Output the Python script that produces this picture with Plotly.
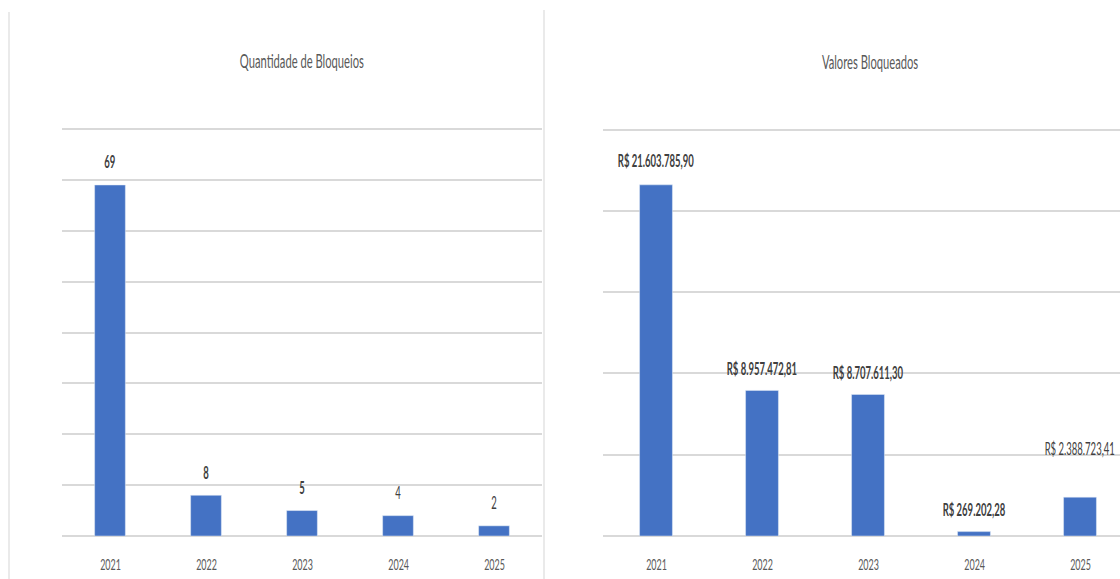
import plotly.graph_objects as go

years = ["2021", "2022", "2023", "2024", "2025"]
qtd_values = [69, 8, 5, 4, 2]
qtd_bold = [True, True, True, False, False]
val_values = [21603785.90, 8957472.81, 8707611.30, 269202.28, 2388723.41]
val_labels = ["R$ 21.603.785,90", "R$ 8.957.472,81", "R$ 8.707.611,30", "R$ 269.202,28", "R$ 2.388.723,41"]
val_bold = [True, True, True, True, False]

title_left = "Quantidade de Bloqueios"
title_right = "Valores Bloqueados"

W, H = 1120, 579
BAR = "#4472C4"
GRID = "#d9d9d9"
FONT = "Lato, Open Sans, sans-serif"
LBL = "#404040"
TCK = "#595959"
SQUISH = 0.56

fig = go.Figure()
fig.add_trace(go.Bar(x=years, y=qtd_values, marker_color=BAR, xaxis="x", yaxis="y",
                     width=0.32, hoverinfo="skip", showlegend=False))
fig.add_trace(go.Bar(x=years, y=val_values, marker_color=BAR, xaxis="x2", yaxis="y2",
                     width=0.31, hoverinfo="skip", showlegend=False))

def fmt(t, b):
    return f"<b>{t}</b>" if b else t

annotations = []
for i, (v, b) in enumerate(zip(qtd_values, qtd_bold)):
    annotations.append(dict(x=i, y=v, xref="x", yref="y", text=fmt(str(v), b),
                            showarrow=False, xanchor="center", yanchor="middle", yshift=23,
                            font=dict(family=FONT, size=17, color=LBL)))
right_shift = [24, 22, 22, 22, 49]
for i, (v, t, b, s) in enumerate(zip(val_values, val_labels, val_bold, right_shift)):
    annotations.append(dict(x=i, y=v, xref="x2", yref="y2", text=fmt(t, b),
                            showarrow=False, xanchor="center", yanchor="middle", yshift=s,
                            font=dict(family=FONT, size=17, color=LBL)))
# category labels under each panel
for xr in ("x", "x2"):
    for i, yr in enumerate(years):
        annotations.append(dict(x=i, y=1 - 563 / H, xref=xr, yref="paper", text=yr,
                                showarrow=False, xanchor="center", yanchor="middle",
                                font=dict(family=FONT, size=16, color=TCK)))
annotations.append(dict(x=302 / W, y=1 - 60 / H, xref="paper", yref="paper", text=title_left,
                        xanchor="center", yanchor="middle",
                        showarrow=False, font=dict(family=FONT, size=20, color=TCK)))
annotations.append(dict(x=870 / W, y=1 - 61 / H, xref="paper", yref="paper", text=title_right,
                        xanchor="center", yanchor="middle",
                        showarrow=False, font=dict(family=FONT, size=20, color=TCK)))

shapes = [
    dict(type="line", xref="paper", yref="paper", x0=9 / W, x1=9 / W, y0=0, y1=1 - 12 / H,
         line=dict(color="#e3e3e3", width=1.5)),
    dict(type="line", xref="paper", yref="paper", x0=544 / W, x1=544 / W, y0=0, y1=1 - 10 / H,
         line=dict(color="#e3e3e3", width=1.5)),
]

xaxis_common = dict(showgrid=False, showline=False, ticks="", zeroline=False,
                    showticklabels=False, type="category")
yaxis_common = dict(showgrid=True, gridcolor=GRID, gridwidth=1.5, showticklabels=False,
                    zeroline=True, zerolinecolor=GRID, zerolinewidth=1.5, showline=False, ticks="")

fig.update_layout(
    width=W, height=H, margin=dict(l=0, r=0, t=0, b=0),
    paper_bgcolor="white", plot_bgcolor="white",
    xaxis=dict(domain=[62 / W, 542 / W], anchor="y", range=[-0.5, 4.5], **xaxis_common),
    yaxis=dict(domain=[1 - 536 / H, 1 - 127 / H], anchor="x", range=[0, 80.4], dtick=10, **yaxis_common),
    xaxis2=dict(domain=[603 / W, 1.0], anchor="y2", range=[-0.5, -0.5 + 517 / 106], **xaxis_common),
    yaxis2=dict(domain=[1 - 536 / H, 1 - 128 / H], anchor="x2", range=[0, 25.1e6], dtick=5e6, **yaxis_common),
    annotations=annotations, shapes=shapes,
)

# narrow (horizontally condensed) text look, as in the reference
post_js = (
    "var s=document.createElement('style');"
    "s.textContent='.main-svg .annotation-text {"
    "transform-box: fill-box; transform-origin: center; transform: scaleX(%s);}';"
    "document.head.appendChild(s);" % SQUISH
)

fig.write_html("out.html", post_script=post_js)
